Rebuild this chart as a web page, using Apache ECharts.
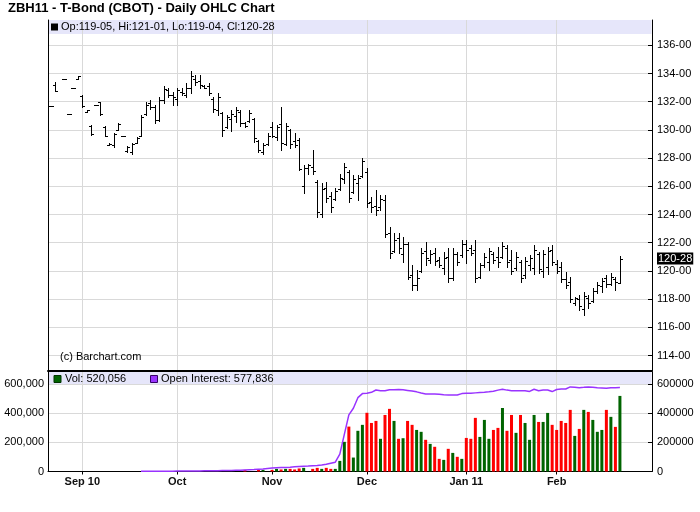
<!DOCTYPE html>
<html><head><meta charset="utf-8">
<script src="https://cdn.jsdelivr.net/npm/echarts@6/dist/echarts.min.js"></script>
<style>html,body{margin:0;padding:0;background:#fff}#c{width:700px;height:512px}</style>
</head><body><div id="c"></div>
<script>
// ---------- data ----------
const title = 'ZBH11 - T-Bond (CBOT) - Daily OHLC Chart';
const monthTicks = [0, 21, 42, 63, 85, 105];          // trading-day index of first day of month
const monthLabels = ['Sep 10', 'Oct', 'Nov', 'Dec', 'Jan 11', 'Feb'];
const priceTicks = [114, 116, 118, 120, 122, 124, 126, 128, 130, 132, 134, 136];
const volTicks = [0, 200000, 400000, 600000];

// trading-day index (0 = Sep 1 2010)
const barDay = [-7,-6,-4,-3,-2,-1,
  0,1,2,3,4,5,6,7,8,9,10,11,12,13,14,15,16,17,18,19,20,21,22,23,24,25,26,27,28,29,
  30,31,32,33,34,35,36,37,38,39,40,41,42,43,44,45,46,47,48,49,50,51,52,53,54,55,56,57,58,59,
  60,61,62,63,64,65,66,67,68,69,70,71,72,73,74,75,76,77,78,79,80,81,82,83,84,85,86,87,88,89,
  90,91,92,93,94,95,96,97,98,99,100,101,102,103,104,105,106,107,108,109,110,111,112,113,114,115,116,117,118,119];
const open = [131.7,133.2,133.6,131.15,133.0,133.6,
  132.4,131.25,130.3,131.8,131.95,130.2,128.9,128.9,130.0,129.55,128.5,128.4,129.1,129.6,131.1,131.9,131.6,130.7,132.1,132.8,132.5,132.2,132.7,132.5,133.0,133.6,133.5,133.1,133.1,132.2,
  131.4,131.2,130.2,130.8,131.0,131.3,130.5,130.6,130.8,129.2,128.4,129.0,130.2,129.5,130.4,129.0,130.0,129.2,129.3,126.0,127.3,127.4,126.3,124.0,125.9,125.3,125.1,125.8,126.5,127.0,
  125.6,126.2,126.7,127.0,124.9,124.6,124.5,125.0,122.7,121.4,122.3,121.2,121.9,119.7,119.0,120.0,121.4,120.8,121.3,120.8,120.2,121.0,119.5,121.2,121.1,121.9,121.6,121.5,119.6,120.4,
  120.6,121.2,121.0,121.0,121.6,120.8,120.2,120.6,119.7,120.4,120.2,121.2,120.0,120.3,121.5,120.5,120.3,119.4,119.2,117.7,118.0,117.3,118.1,117.9,118.6,118.9,119.5,119.1,119.4,119.15625];
const high = [131.7,133.4,133.6,131.15,133.0,133.85,
  132.45,131.4,130.35,131.8,132.0,130.3,129.05,129.8,130.5,129.55,128.85,129.1,129.5,131.05,132.0,132.1,131.8,132.3,133.1,133.0,132.7,133.0,133.0,133.3,134.2,133.9,133.9,133.2,133.3,132.3,
  132.6,131.3,131.05,131.4,131.6,131.4,130.55,131.4,130.85,129.3,129.1,129.8,130.55,130.35,131.6,130.5,130.05,129.8,129.4,127.5,127.6,128.6,126.45,126.2,126.3,125.6,125.9,126.9,127.65,127.15,
  126.8,126.8,128.0,127.3,125.25,125.75,125.4,125.4,123.1,122.7,122.7,122.4,122.05,120.4,120.05,121.6,122.05,121.5,121.6,121.0,121.35,121.6,121.6,121.35,122.2,122.2,121.85,122.2,120.55,121.3,
  121.6,121.35,121.7,122.05,121.85,121.5,121.35,120.8,121.0,121.15,121.85,121.35,121.5,121.7,121.85,120.8,120.65,119.95,119.55,118.15,118.3,118.5,118.3,118.8,119.2,119.5,119.7,119.85,119.55,121.03125];
const low = [131.7,132.75,133.6,131.15,133.0,133.6,
  131.6,131.25,129.65,131.8,131.05,129.55,128.9,128.8,130.0,129.55,128.45,128.3,129.1,129.55,131.05,131.5,130.5,130.6,131.9,132.3,131.8,131.8,132.5,132.3,132.6,133.2,133.0,133.0,132.5,131.3,
  131.05,129.6,130.1,129.9,130.55,130.3,130.2,130.55,129.15,128.4,128.3,128.9,129.5,129.3,128.6,128.9,128.7,128.8,127.15,125.5,126.9,126.9,123.8,123.8,124.9,124.2,125.05,125.75,126.2,124.9,
  125.5,125.05,126.65,124.55,124.2,123.95,124.3,122.4,120.9,121.35,121.3,120.65,119.4,118.65,118.65,119.95,120.4,120.55,120.4,120.25,119.75,119.2,119.35,120.4,121.0,120.55,121.15,119.2,119.5,120.3,
  120.05,120.55,120.3,120.9,120.3,119.75,120.05,119.2,119.5,120.05,119.75,119.85,119.6,119.75,120.4,119.85,119.2,118.8,117.8,117.6,117.25,116.9,117.4,117.8,118.45,118.5,118.85,119.0,118.65,119.125];
const close = [131.7,132.75,133.6,131.15,133.0,133.85,
  131.7,131.4,129.7,131.8,131.1,129.6,129.0,129.7,130.4,129.55,128.8,129.0,129.45,130.9,131.8,131.6,130.7,132.1,132.9,132.5,132.3,132.8,132.6,133.0,133.8,133.4,133.2,133.0,132.6,131.5,
  132.3,130.0,130.9,131.1,131.4,130.5,130.3,131.2,129.4,128.6,128.9,129.6,129.55,130.2,129.1,130.3,129.0,128.9,127.2,127.3,127.5,127.1,124.2,125.8,125.2,124.5,125.7,126.6,127.4,125.2,
  126.5,126.6,127.8,124.8,124.5,124.3,125.1,122.6,121.3,122.2,121.6,121.9,119.6,119.0,119.5,121.3,120.9,121.2,120.7,120.4,120.9,119.5,121.2,120.6,121.9,121.5,121.3,119.5,120.4,121.0,
  121.4,120.8,120.6,121.8,120.6,120.0,121.0,119.5,120.7,120.9,121.5,120.1,121.2,121.4,120.6,120.0,119.4,119.0,118.0,118.1,117.5,118.2,117.7,118.6,119.0,119.3,119.1,119.6,119.2,120.875];

const volDay = [36,39,40,42,43,44,45,46,47,48,49,51,52,53,54,55,56,57,58,59,
  60,61,62,63,64,65,66,67,68,69,70,71,72,73,74,75,76,77,78,79,80,81,82,83,84,85,86,87,88,89,
  90,91,92,93,94,95,96,97,98,99,100,101,102,103,104,105,106,107,108,109,110,111,112,113,114,115,116,117,118,119];
const volume = [11000,11000,11000,11000,18000,14000,18000,18000,14000,21000,25000,18000,25000,18000,25000,18000,18000,73000,204000,309000,
  96000,280000,321000,404000,334000,348000,225000,389000,431000,348000,225000,229000,348000,321000,286000,273000,218000,190000,170000,87000,80000,156000,128000,101000,87000,231000,225000,369000,238000,355000,
  225000,286000,300000,437000,280000,389000,266000,389000,334000,218000,389000,341000,341000,403000,321000,286000,348000,334000,424000,245000,293000,424000,410000,355000,273000,286000,424000,376000,307000,520056];
const volUp = [0,0,1,0,1,0,1,0,0,0,1,0,0,1,0,0,1,1,1,0,
  1,1,1,0,0,0,1,0,0,1,0,1,0,0,1,1,0,1,0,0,1,0,1,0,1,0,0,0,1,1,
  1,0,0,1,0,0,1,0,1,1,1,0,1,1,0,0,0,0,0,1,0,1,0,1,1,1,0,1,0,1];

const oiDay = [13,14,15,16,17,18,19,20,21,22,23,24,25,26,27,28,29,30,31,32,33,34,35,36,37,38,39,40,41,42,43,44,45,46,47,48,49,50,51,52,53,54,55,56,57,58,59,
  60,61,62,63,64,65,66,67,68,69,70,71,72,73,74,75,76,77,78,79,80,81,82,83,84,85,86,87,88,89,
  90,91,92,93,94,95,96,97,98,99,100,101,102,103,104,105,106,107,108,109,110,111,112,113,114,115,116,117,118,119];
const openInterest = [1000,1200,1300,1500,1700,2000,2200,2500,2800,3000,3300,3700,4000,4300,4700,5000,5500,6000,6300,6600,7000,8000,9000,11000,12500,14000,16000,18000,21000,24000,25500,27000,28000,30000,32500,34000,35500,37000,39000,41000,45000,50000,57000,64000,120000,255000,390000,
  435000,508000,536000,538000,545000,561000,556000,556000,563000,563000,564000,562000,558000,554000,548000,540000,534000,534000,533000,531000,528000,527000,527000,527000,536000,538000,538000,541000,543000,545000,
  548000,552000,560000,566000,560000,556000,556000,556000,555000,551000,566000,556000,560000,561000,550000,564000,567000,568000,582000,580000,577000,579000,582000,580000,577000,575000,573000,577000,577000,577836];

// ---------- helpers ----------
const FONT = '"Liberation Sans", Arial, Helvetica, sans-serif';
const GREEN = '#006400', RED = '#ff0000', PURPLE = '#9933ff', GRID = '#d9d9d9', BAND = '#e6e6fa';
function fmt32(v) {
  const w = Math.floor(v);
  const t = Math.round((v - w) * 32);
  return w + '-' + String(t).padStart(2, '0');
}
const n = barDay.length - 1;
const lastClose = close[n];
const headerText = 'Op:' + fmt32(open[n]) + ', Hi:' + fmt32(high[n]) + ', Lo:' + fmt32(low[n]) + ', Cl:' + fmt32(close[n]);
const lastVol = volume[volume.length - 1];
const lastOI = openInterest[openInterest.length - 1];

const ohlcData = barDay.map((d, k) => [d, open[k], high[k], low[k], close[k]]);
const volData = volDay.map((d, k) => ({ value: [d, volume[k]], itemStyle: { color: volUp[k] ? GREEN : RED } }));
const oiData = oiDay.map((d, k) => [d, openInterest[k]]);

const X_MIN = -7.59, X_MAX = 126.1;
const P_MIN = 112.9, P_MAX = 137.794;
const V_MAX = 684633;

function xAxisBase(gi) {
  return {
    type: 'value', gridIndex: gi, min: X_MIN, max: X_MAX,
    splitLine: { show: true, lineStyle: { color: GRID, width: 1 } }
  };
}
const blackLine = { show: true, onZero: false, lineStyle: { color: '#000' } };

const chart = echarts.init(document.getElementById('c'), null, { renderer: 'canvas' });
chart.setOption({
  animation: false,
  backgroundColor: '#fff',
  textStyle: { fontFamily: FONT },
  grid: [
    { left: 48, right: 48, top: 20, height: 351 },
    { left: 48, right: 48, top: 372, height: 99.5 }
  ],
  xAxis: [
    Object.assign(xAxisBase(0), {
      axisLine: { show: true, onZero: false, lineStyle: { color: '#000', width: 2 } },
      axisTick: { show: false, customValues: monthTicks },
      axisLabel: { show: false, customValues: monthTicks }
    }),
    Object.assign(xAxisBase(1), {
      axisLine: { show: true, onZero: false, lineStyle: { color: '#000', width: 1 } },
      axisTick: { show: true, length: 3, customValues: monthTicks, lineStyle: { color: '#000' } },
      axisLabel: {
        customValues: monthTicks, margin: 5, fontSize: 11, fontWeight: 'bold', color: '#111', fontFamily: FONT,
        formatter: v => monthLabels[monthTicks.indexOf(v)]
      }
    })
  ],
  yAxis: [
    {
      type: 'value', gridIndex: 0, position: 'right', min: P_MIN, max: P_MAX,
      axisLine: blackLine,
      axisTick: { show: true, inside: true, length: 4, customValues: priceTicks, lineStyle: { color: '#000' } },
      axisLabel: {
        customValues: priceTicks.concat([lastClose]), margin: 5, fontSize: 11, color: '#000', fontFamily: FONT,
        formatter: v => v === lastClose ? '{hl|' + fmt32(v) + '}' : fmt32(v),
        rich: { hl: { backgroundColor: '#000', color: '#fff', fontSize: 11, fontFamily: FONT, padding: [1, 1, 0, 1] } }
      },
      splitLine: { show: true, lineStyle: { color: GRID } }
    },
    {
      type: 'value', gridIndex: 0, position: 'left', min: P_MIN, max: P_MAX,
      axisLine: blackLine,
      axisTick: { show: false }, axisLabel: { show: false }, splitLine: { show: false }
    },
    {
      type: 'value', gridIndex: 1, position: 'left', min: 0, max: V_MAX,
      axisLine: blackLine,
      axisTick: { show: false, customValues: volTicks },
      axisLabel: {
        customValues: volTicks, margin: 4, fontSize: 11, color: '#000', fontFamily: FONT,
        formatter: v => v.toLocaleString('en-US')
      },
      splitLine: { show: true, lineStyle: { color: GRID } }
    },
    {
      type: 'value', gridIndex: 1, position: 'right', min: 0, max: V_MAX,
      axisLine: blackLine,
      axisTick: { show: true, inside: true, length: 4, customValues: volTicks, lineStyle: { color: '#000' } },
      axisLabel: { customValues: volTicks, margin: 5, fontSize: 11, color: '#000', fontFamily: FONT, formatter: v => String(v) },
      splitLine: { show: false }
    }
  ],
  series: [
    {
      type: 'custom', name: 'OHLC', xAxisIndex: 0, yAxisIndex: 0,
      data: ohlcData, encode: { x: 0, y: [1, 2, 3, 4] },
      renderItem: function (params, api) {
        const d = api.value(0);
        const o = api.coord([d, api.value(1)]);
        const h = api.coord([d, api.value(2)]);
        const l = api.coord([d, api.value(3)]);
        const c = api.coord([d, api.value(4)]);
        const px = Math.round(o[0]) + 0.5;
        const oy = Math.round(o[1]) + 0.5, cy = Math.round(c[1]) + 0.5;
        const st = { stroke: '#000', lineWidth: 1 };
        return {
          type: 'group', children: [
            { type: 'line', shape: { x1: px, y1: Math.round(h[1]), x2: px, y2: Math.round(l[1]) + 1 }, style: st },
            { type: 'line', shape: { x1: px - 2.5, y1: oy, x2: px, y2: oy }, style: st },
            { type: 'line', shape: { x1: px, y1: cy, x2: px + 2.5, y2: cy }, style: st }
          ]
        };
      }
    },
    {
      type: 'bar', name: 'Vol', xAxisIndex: 1, yAxisIndex: 2, barWidth: 3, data: volData
    },
    {
      type: 'line', name: 'Open Interest', xAxisIndex: 1, yAxisIndex: 2, data: oiData,
      showSymbol: false, symbol: 'none', lineStyle: { color: PURPLE, width: 1.5 }, z: 3
    }
  ],
  graphic: { elements: [
    { type: 'text', left: 8, top: 2, z: 10, style: { text: title, font: 'bold 13px ' + FONT, fill: '#000' } },
    { type: 'rect', shape: { x: 48.5, y: 20, width: 603, height: 14 }, style: { fill: BAND }, z: -10, silent: true },
    { type: 'rect', shape: { x: 51, y: 23.5, width: 7, height: 7 }, style: { fill: '#000' }, z: 10 },
    { type: 'text', x: 61, y: 27, z: 10, style: { text: headerText, font: '11px ' + FONT, fill: '#000', verticalAlign: 'middle' } },
    { type: 'text', x: 60, y: 357, z: 10, style: { text: '(c) Barchart.com', font: '11px ' + FONT, fill: '#000', verticalAlign: 'middle' } },
    { type: 'rect', shape: { x: 48.5, y: 372, width: 603, height: 12.3 }, style: { fill: BAND }, z: -10, silent: true },
    { type: 'rect', shape: { x: 54, y: 375.5, width: 7, height: 7 }, style: { fill: GREEN, stroke: '#003300', lineWidth: 1 }, z: 10 },
    { type: 'text', x: 65, y: 379, z: 10, style: { text: 'Vol: ' + lastVol.toLocaleString('en-US'), font: '11px ' + FONT, fill: '#000', verticalAlign: 'middle' } },
    { type: 'rect', shape: { x: 150.5, y: 375.5, width: 7, height: 7 }, style: { fill: PURPLE, stroke: '#330066', lineWidth: 1 }, z: 10 },
    { type: 'text', x: 161, y: 379, z: 10, style: { text: 'Open Interest: ' + lastOI.toLocaleString('en-US'), font: '11px ' + FONT, fill: '#000', verticalAlign: 'middle' } }
  ] }
});
</script>
</body></html>
